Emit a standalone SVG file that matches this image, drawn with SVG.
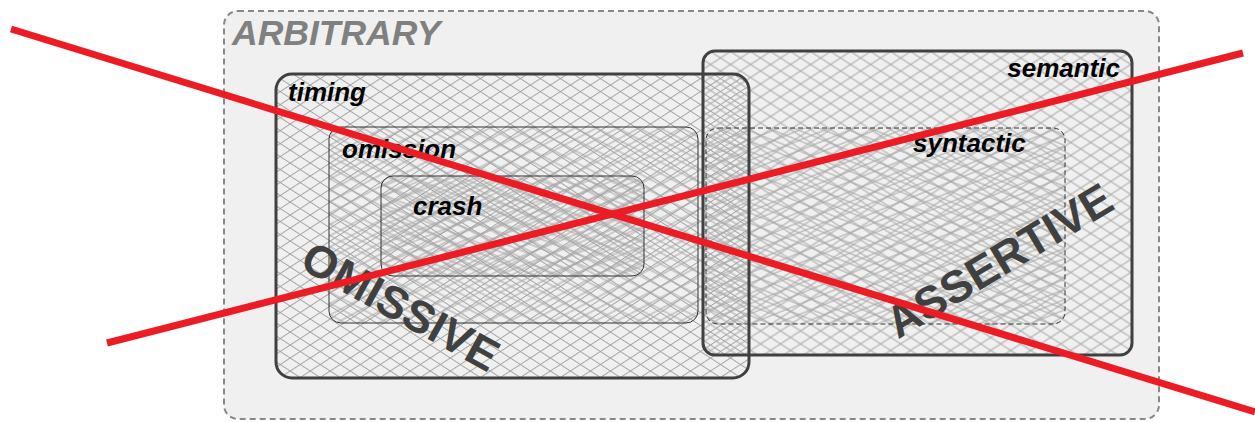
<svg xmlns="http://www.w3.org/2000/svg" width="1255" height="422" viewBox="0 0 1255 422">
<style>
.lbl{font-family:"Liberation Sans",Arial,sans-serif;font-weight:bold;font-style:italic;font-size:26px;fill:#000}
.big{font-family:"Liberation Sans",Arial,sans-serif;font-weight:bold;font-size:45px;fill:#404040}
.thick{fill:none;stroke:#404040;stroke-width:3}
.thin{fill:none;stroke:#333;stroke-width:1}
.hl{stroke:#a6a6a6;stroke-width:1}
.red{stroke:#ec1c24;stroke-width:7;fill:none}
</style>
<defs>
<pattern id="tA" patternUnits="userSpaceOnUse" width="20" height="10.9" patternTransform="rotate(33)"><line class="hl" x1="0" y1="0.5" x2="20" y2="0.5"/></pattern>
<pattern id="tB" patternUnits="userSpaceOnUse" width="20" height="10.9" patternTransform="rotate(-33)"><line class="hl" x1="0" y1="0.5" x2="20" y2="0.5"/></pattern>
<pattern id="oA" patternUnits="userSpaceOnUse" width="20" height="10" patternTransform="rotate(28)"><line class="hl" x1="0" y1="3" x2="20" y2="3"/></pattern>
<pattern id="oB" patternUnits="userSpaceOnUse" width="20" height="10" patternTransform="rotate(-28)"><line class="hl" x1="0" y1="3" x2="20" y2="3"/></pattern>
<pattern id="cA" patternUnits="userSpaceOnUse" width="20" height="9" patternTransform="rotate(22)"><line class="hl" x1="0" y1="1" x2="20" y2="1"/></pattern>
<pattern id="cB" patternUnits="userSpaceOnUse" width="20" height="9" patternTransform="rotate(-22)"><line class="hl" x1="0" y1="1" x2="20" y2="1"/></pattern>
<pattern id="sA" patternUnits="userSpaceOnUse" width="20" height="10.9" patternTransform="rotate(33)"><line class="hl" x1="0" y1="5" x2="20" y2="5"/></pattern>
<pattern id="sB" patternUnits="userSpaceOnUse" width="20" height="10.9" patternTransform="rotate(-33)"><line class="hl" x1="0" y1="5" x2="20" y2="5"/></pattern>
<pattern id="yA" patternUnits="userSpaceOnUse" width="20" height="9.5" patternTransform="rotate(22)"><line class="hl" x1="0" y1="2" x2="20" y2="2"/></pattern>
<pattern id="yB" patternUnits="userSpaceOnUse" width="20" height="9.5" patternTransform="rotate(-22)"><line class="hl" x1="0" y1="2" x2="20" y2="2"/></pattern>
</defs>
<rect width="1255" height="422" fill="#fff"/>
<g id="arbitrary">
<rect x="224" y="11" width="935" height="408" rx="14" fill="#f0f0f0" stroke="#888" stroke-width="2" stroke-dasharray="6,4"/>
<text x="232" y="45" class="lbl" style="font-size:35.5px;fill:#808080">ARBITRARY</text>
</g>
<g id="timing">
<rect x="276" y="74" width="473" height="304" rx="16" fill="url(#tA)"/>
<rect x="276" y="74" width="473" height="304" rx="16" fill="url(#tB)"/>
</g>
<g id="omission">
<rect x="329" y="127" width="369" height="196" rx="12" fill="url(#oA)"/>
<rect x="329" y="127" width="369" height="196" rx="12" fill="url(#oB)"/>
<rect x="329" y="127" width="369" height="196" rx="12" class="thin"/>
</g>
<g id="crash">
<rect x="381" y="176" width="263" height="100" rx="12" fill="url(#cA)"/>
<rect x="381" y="176" width="263" height="100" rx="12" fill="url(#cB)"/>
<rect x="381" y="176" width="263" height="100" rx="12" class="thin"/>
</g>
<g id="semantic">
<rect x="703" y="51" width="429" height="304" rx="12" fill="url(#sA)"/>
<rect x="703" y="51" width="429" height="304" rx="12" fill="url(#sB)"/>
</g>
<g id="syntactic">
<rect x="706" y="128" width="359" height="196" rx="12" fill="url(#yA)"/>
<rect x="706" y="128" width="359" height="196" rx="12" fill="url(#yB)"/>
<rect x="706" y="128" width="359" height="196" rx="12" class="thin" stroke-dasharray="5,3"/>
</g>
<g id="borders">
<rect x="703" y="51" width="429" height="304" rx="12" class="thick"/>
<rect x="276" y="74" width="473" height="304" rx="16" class="thick"/>
</g>
<g id="labels">
<text x="288" y="101" class="lbl">timing</text>
<text x="342" y="158" class="lbl">omission</text>
<text x="413" y="215" class="lbl">crash</text>
<text x="1120" y="77" class="lbl" text-anchor="end">semantic</text>
<text x="913" y="152" class="lbl">syntactic</text>
<text transform="translate(401,306) rotate(29)" x="0" y="16" class="big" text-anchor="middle">OMISSIVE</text>
<text transform="translate(999,260) rotate(-31)" x="0" y="16" class="big" text-anchor="middle">ASSERTIVE</text>
</g>
<g id="connectors">
<line class="red" x1="11" y1="29" x2="1255" y2="412"/>
<line class="red" x1="107" y1="343" x2="1243" y2="53"/>
</g>
</svg>
